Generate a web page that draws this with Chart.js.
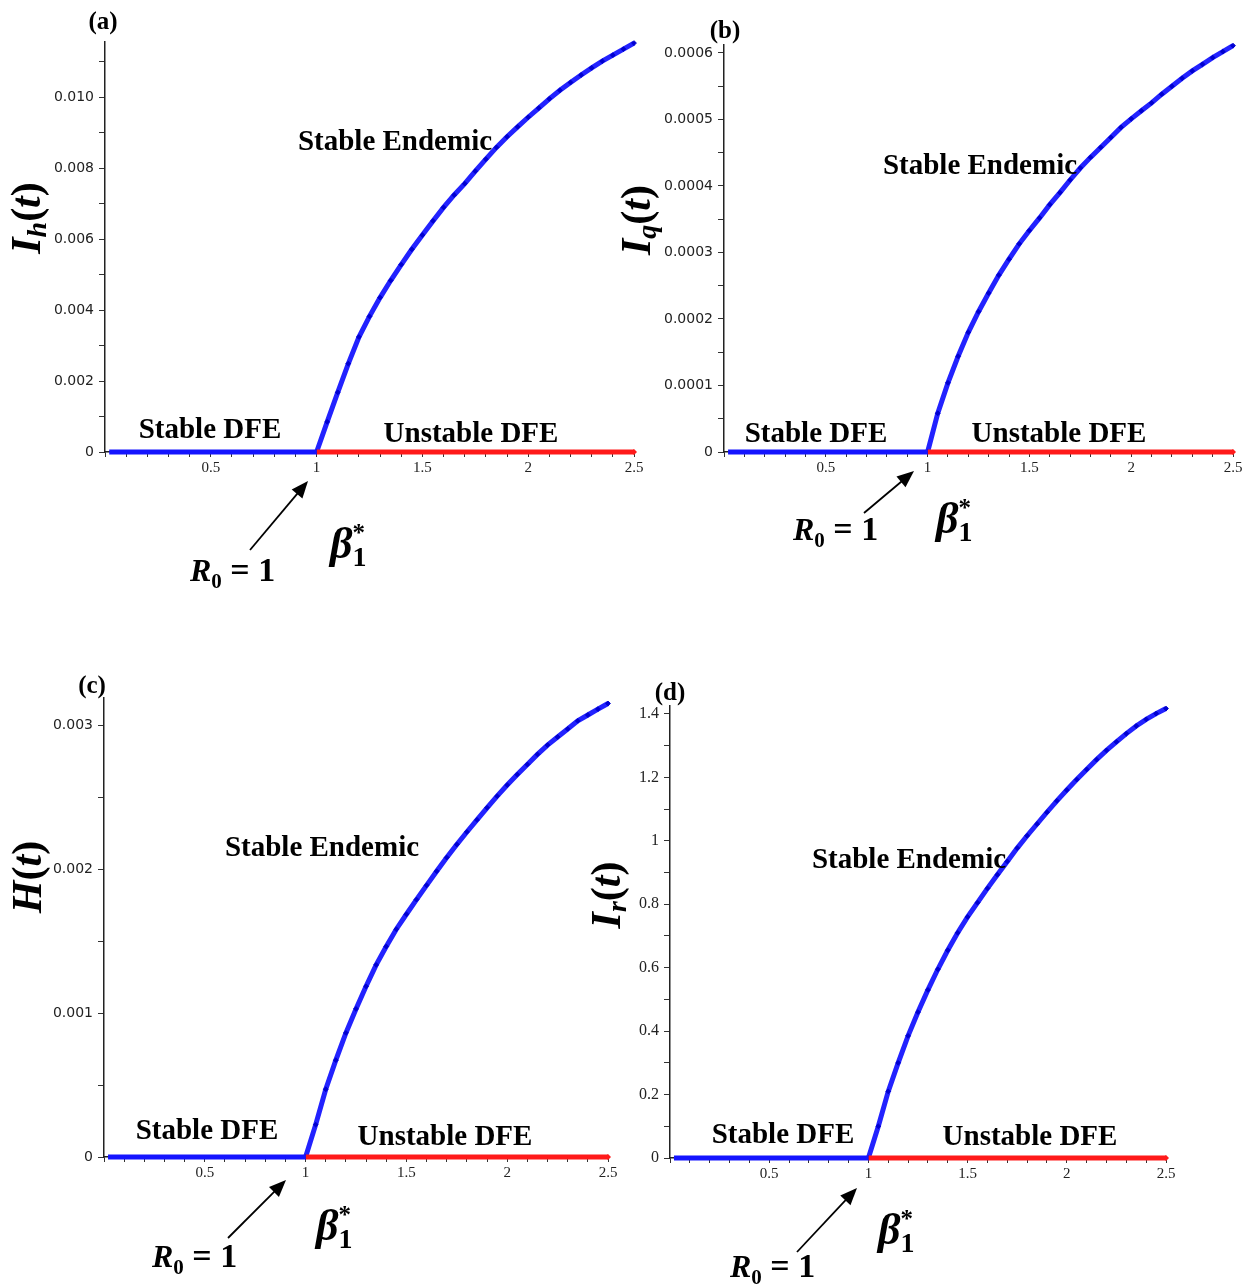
<!DOCTYPE html>
<html>
<head>
<meta charset="utf-8">
<script src="https://cdn.jsdelivr.net/npm/chart.js@4.4.0/dist/chart.umd.min.js"></script>
<style>
  body { margin: 0; background: #fff; }
  #page { position: relative; width: 1252px; height: 1285px; overflow: hidden; background: #fff; }
  canvas { position: absolute; }
</style>
</head>
<body>
<div id="page">
  <canvas id="chartA" width="650" height="620" style="left:0px;top:0px"></canvas>
  <canvas id="chartB" width="637" height="620" style="left:615px;top:0px"></canvas>
  <canvas id="chartC" width="640" height="645" style="left:0px;top:640px"></canvas>
  <canvas id="chartD" width="662" height="645" style="left:590px;top:640px"></canvas>
</div>
<script>
// beta_1^* values along the endemic branch
const beta = [1.00, 1.05, 1.10, 1.15, 1.20, 1.25, 1.30, 1.35, 1.40, 1.45, 1.50,
              1.55, 1.60, 1.65, 1.70, 1.75, 1.80, 1.85, 1.90, 1.95, 2.00,
              2.05, 2.10, 2.15, 2.20, 2.25, 2.30, 2.35, 2.40, 2.45, 2.50];
// disease free branch: stable up to R0 = 1, unstable after
const betaStable = [0.02, 1.0];
const betaUnstable = [1.0, 2.5];

const Ih = [0, 0.00085, 0.00168, 0.00249, 0.00324, 0.00382, 0.00435, 0.00483, 0.00528, 0.00571, 0.00611,
            0.00651, 0.00689, 0.00724, 0.00756, 0.00791, 0.00825, 0.00858, 0.00888, 0.00916, 0.00943,
            0.00969, 0.00995, 0.01019, 0.01041, 0.01062, 0.01082, 0.01101, 0.01118, 0.01135, 0.01152];
const Iq = [0, 0.0000583, 0.000104, 0.000144, 0.000180, 0.000211, 0.000239, 0.000266, 0.000290, 0.000313, 0.000333,
            0.000352, 0.000372, 0.000390, 0.000409, 0.000427, 0.000443, 0.000458, 0.000473, 0.000488, 0.000501,
            0.000513, 0.000525, 0.000538, 0.000550, 0.000562, 0.000573, 0.000583, 0.000593, 0.000602, 0.000611];
const Hq = [0, 0.000225, 0.000471, 0.000673, 0.000862, 0.001029, 0.001186, 0.001335, 0.001463, 0.001583, 0.001687,
            0.001789, 0.001888, 0.001986, 0.002081, 0.002172, 0.002259, 0.002343, 0.002427, 0.002508, 0.002585,
            0.002658, 0.002728, 0.002798, 0.002863, 0.002919, 0.002975, 0.003031, 0.003072, 0.003113, 0.003152];
const Ir = [0, 0.10, 0.21, 0.30, 0.385, 0.46, 0.53, 0.595, 0.655, 0.71, 0.76,
            0.805, 0.85, 0.893, 0.935, 0.977, 1.016, 1.053, 1.09, 1.126, 1.16,
            1.193, 1.225, 1.256, 1.285, 1.312, 1.338, 1.362, 1.383, 1.401, 1.417];

// tick labels
const xTickLabels = ['', '0.5', '1', '1.5', '2', '2.5'];
const yLabelsA = ['0', '0.002', '0.004', '0.006', '0.008', '0.010'];
const yLabelsB = ['0', '0.0001', '0.0002', '0.0003', '0.0004', '0.0005', '0.0006'];
const yLabelsC = ['0', '0.001', '0.002', '0.003'];
const yLabelsD = ['0', '0.2', '0.4', '0.6', '0.8', '1', '1.2', '1.4'];

const SERIF = "'Liberation Serif', 'Times New Roman', serif";
const SANS = "'DejaVu Sans', Verdana, sans-serif";

function rich(ctx, segs, x, y, align) {
  let w = 0;
  segs.forEach(s => { ctx.font = s[1]; if (s[3] !== false) w += ctx.measureText(s[0]).width; });
  let cx = align === 'center' ? x - w / 2 : x;
  segs.forEach(s => {
    ctx.font = s[1];
    ctx.fillText(s[0], cx, y + (s[2] || 0));
    if (s[3] !== false) cx += ctx.measureText(s[0]).width;
  });
}

function arrow(ctx, x1, y1, x2, y2) {
  const a = Math.atan2(y2 - y1, x2 - x1), L = 17, W = 7;
  ctx.strokeStyle = '#000';
  ctx.lineWidth = 1.8;
  ctx.beginPath();
  ctx.moveTo(x1, y1);
  ctx.lineTo(x2 - L * 0.8 * Math.cos(a), y2 - L * 0.8 * Math.sin(a));
  ctx.stroke();
  ctx.beginPath();
  ctx.moveTo(x2, y2);
  ctx.lineTo(x2 - L * Math.cos(a) + W * Math.sin(a), y2 - L * Math.sin(a) - W * Math.cos(a));
  ctx.lineTo(x2 - L * Math.cos(a) - W * Math.sin(a), y2 - L * Math.sin(a) + W * Math.cos(a));
  ctx.closePath();
  ctx.fill();
}

function ylabelSegs(sub) {
  const segs = [[sub ? 'I' : 'H', `bold italic 42px ${SERIF}`]];
  if (sub) segs.push([sub, `bold italic 28px ${SERIF}`, 6]);
  segs.push(['(', `bold 42px ${SERIF}`], ['t', `bold italic 42px ${SERIF}`], [')', `bold 42px ${SERIF}`]);
  return segs;
}

// annotation plugin, positions given in page pixels
function notes(ox, oy, n) {
  return {
    id: 'notes',
    afterDraw(chart) {
      const ctx = chart.ctx;
      ctx.save();
      ctx.translate(-ox, -oy);
      ctx.fillStyle = '#000';
      ctx.textBaseline = 'middle';
      ctx.textAlign = 'left';
      rich(ctx, [[n.tag[0], `bold 25px ${SERIF}`]], n.tag[1], n.tag[2], 'center');
      const big = `bold 29px ${SERIF}`;
      rich(ctx, [['Stable Endemic', big]], n.se[0], n.se[1], 'center');
      rich(ctx, [['Stable DFE', big]], n.sd[0], n.sd[1], 'center');
      rich(ctx, [['Unstable DFE', big]], n.ud[0], n.ud[1], 'center');
      // rotated y label
      ctx.save();
      ctx.translate(n.yl[0], n.yl[1]);
      ctx.rotate(-Math.PI / 2);
      ctx.textBaseline = 'alphabetic';
      rich(ctx, ylabelSegs(n.sub), 0, 12, 'center');
      ctx.restore();
      ctx.textBaseline = 'alphabetic';
      rich(ctx, [['R', `bold italic 32px ${SERIF}`], ['0', `bold 21px ${SERIF}`, 7], [' = 1', `bold 34px ${SERIF}`]], n.r0[0], n.r0[1], 'left');
      rich(ctx, [['\u03B2', `bold italic 44px ${SERIF}`], ['*', `bold 25px ${SERIF}`, -17, false], ['1', `bold 28px ${SERIF}`, 8]], n.bt[0], n.bt[1], 'left');
      arrow(ctx, n.ar[0], n.ar[1], n.ar[2], n.ar[3]);
      ctx.restore();
    }
  };
}

function makeChart(id, p) {
  const pts = (xs, ys) => xs.map((x, i) => ({ x: x, y: ys[i] }));
  const zeros = [0, 0];
  new Chart(document.getElementById(id), {
    type: 'line',
    data: {
      datasets: [
        { data: pts(betaStable, zeros), borderColor: '#1414ff', borderWidth: 5, pointRadius: 0, clip: false },
        { data: pts(betaUnstable, zeros), borderColor: '#ff1a1a', borderWidth: 5, pointRadius: [0, 3],
          pointStyle: 'rectRot', pointBackgroundColor: '#ff1a1a', pointBorderWidth: 0, clip: false },
        { data: pts(beta, p.values), borderColor: '#2222ff', borderWidth: 5, pointRadius: 2.4,
          pointStyle: 'rectRot', pointBackgroundColor: '#0000d0', pointBorderColor: '#0000d0',
          pointBorderWidth: 1, clip: false },
        { data: pts(beta, p.values), borderColor: 'rgba(205,205,255,0.9)', borderWidth: 1.3,
          borderDash: [2, 2], pointRadius: 0, clip: false }
      ]
    },
    options: {
      responsive: false,
      animation: false,
      devicePixelRatio: 1,
      layout: { padding: { top: p.padTop, right: p.padRight, left: 0, bottom: 0 } },
      plugins: { legend: { display: false }, tooltip: { enabled: false } },
      scales: {
        x: {
          type: 'linear', min: 0, max: 2.5, z: 1,
          afterFit: s => { s.height = p.xHeight; },
          grid: { drawOnChartArea: false, tickLength: 5, color: '#333' },
          border: { color: '#222', width: 1.5 },
          ticks: {
            stepSize: 0.1, autoSkip: false, maxRotation: 0, maxTicksLimit: 100, padding: 2,
            color: '#222', font: { family: SERIF, size: 15 },
            callback: v => { const k = Math.round(v * 10); return k % 5 === 0 ? xTickLabels[k / 5] : ''; }
          }
        },
        y: {
          type: 'linear', min: 0, max: p.yMax, z: 1,
          afterFit: s => { s.width = p.yWidth; },
          grid: { drawOnChartArea: false, tickLength: 6, color: '#333' },
          border: { color: '#222', width: 1.5 },
          ticks: {
            stepSize: p.yStep, autoSkip: false, maxTicksLimit: 100, includeBounds: false, padding: 5,
            color: '#222', font: p.yFont,
            callback: v => { const k = Math.round(v / p.yStep); return k % 2 === 0 ? (p.yLabels[k / 2] || '') : ''; }
          }
        }
      }
    },
    plugins: [notes(p.ox, p.oy, p.notes)]
  });
}

makeChart('chartA', {
  ox: 0, oy: 0, values: Ih, yMax: 0.01155, yStep: 0.001, yLabels: yLabelsA,
  yWidth: 105, padTop: 42, padRight: 16, xHeight: 168, yFont: { family: SANS, size: 14 },
  notes: { tag: ['(a)', 103, 23], sub: 'h', yl: [28, 218], se: [395, 143], sd: [210, 431], ud: [471, 435],
           ar: [250, 550, 308, 481], r0: [190, 581], bt: [330, 558] }
});
makeChart('chartB', {
  ox: 615, oy: 0, values: Iq, yMax: 0.000612, yStep: 0.00005, yLabels: yLabelsB,
  yWidth: 109, padTop: 45, padRight: 19, xHeight: 168, yFont: { family: SANS, size: 14 },
  notes: { tag: ['(b)', 725, 32], sub: 'q', yl: [638, 220], se: [980, 167], sd: [816, 435], ud: [1059, 435],
           ar: [864, 513, 914, 471], r0: [793, 540], bt: [936, 533] }
});
makeChart('chartC', {
  ox: 0, oy: 640, values: Hq, yMax: 0.00319, yStep: 0.0005, yLabels: yLabelsC,
  yWidth: 104, padTop: 58, padRight: 32, xHeight: 128, yFont: { family: SANS, size: 14 },
  notes: { tag: ['(c)', 92, 687], sub: '', yl: [29, 877], se: [322, 849], sd: [207, 1132], ud: [445, 1138],
           ar: [228, 1238, 286, 1180], r0: [152, 1267], bt: [316, 1240] }
});
makeChart('chartD', {
  ox: 590, oy: 640, values: Ir, yMax: 1.425, yStep: 0.1, yLabels: yLabelsD,
  yWidth: 80, padTop: 66, padRight: 86, xHeight: 127, yFont: { family: SERIF, size: 16 },
  notes: { tag: ['(d)', 670, 694], sub: 'r', yl: [608, 895], se: [909, 861], sd: [783, 1136], ud: [1030, 1138],
           ar: [797, 1252, 857, 1188], r0: [730, 1277], bt: [878, 1244] }
});
</script>
</body>
</html>
